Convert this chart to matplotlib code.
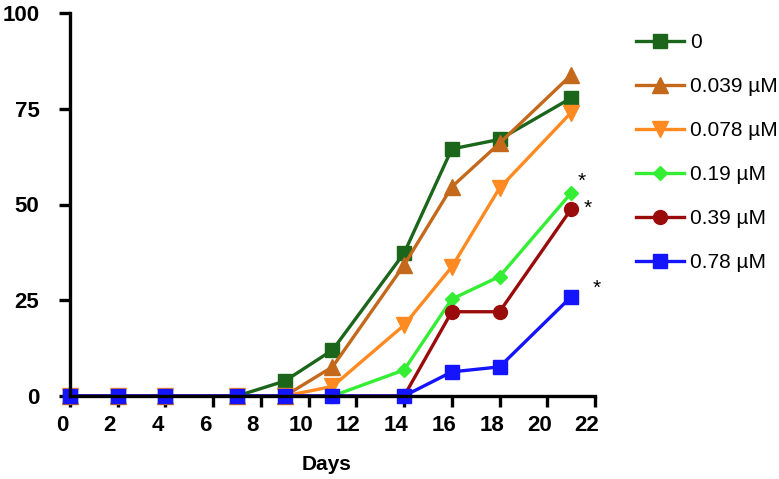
import matplotlib.pyplot as plt
from matplotlib.transforms import ScaledTranslation

plt.rcParams['font.family'] = ['Liberation Sans', 'DejaVu Sans']

days = [0, 2, 4, 7, 9, 11, 14, 16, 18, 21]

labels = ["0", "0.039 µM", "0.078 µM", "0.19 µM", "0.39 µM", "0.78 µM"]
conc_0 = [0, 0, 0, 0, 3.9, 12.0, 37.3, 64.5, 67.0, 77.8]
conc_039 = [0, 0, 0, 0, 0, 7.6, 34.2, 54.6, 66.0, 83.8]
conc_078 = [0, 0, 0, 0, 0, 2.5, 18.5, 33.7, 54.3, 74.0]
conc_19 = [0, 0, 0, 0, 0, 0, 6.8, 25.3, 31.2, 53.0]
conc_39 = [0, 0, 0, 0, 0, 0, 0, 22.0, 22.0, 48.8]
conc_78 = [0, 0, 0, 0, 0, 0, 0, 6.3, 7.6, 25.9]

star_x = [21.45, 21.68, 22.05]
star_y = [56.0, 49.0, 28.0]

xticks = list(range(0, 23, 2))
yticks = [0, 25, 50, 75, 100]

series = [conc_0, conc_039, conc_078, conc_19, conc_39, conc_78]
colors = ["#1b661b", "#c4691c", "#ff8a22", "#33ee33", "#9a0c0c", "#1414ff"]
markers = ["s", "^", "v", "D", "o", "s"]
msizes = [10, 11, 11, 7, 10, 10]

fig = plt.figure(figsize=(7.79, 4.79), dpi=100)
ax = fig.add_axes([70 / 779, 1 - 396 / 479, 525 / 779, 383 / 479])

for vals, lab, c, m, ms in zip(series, labels, colors, markers, msizes):
    ax.plot(days, vals, color=c, marker=m, markersize=ms, linewidth=2.4,
            label=lab, clip_on=False)

for sx, sy in zip(star_x, star_y):
    ax.text(sx, sy, "*", fontsize=15, ha="center", va="center")

ax.set_xlim(0, 22)
ax.set_ylim(0, 100)
ax.set_xticks(xticks)
ax.set_yticks(yticks)
for lbl in ax.get_xticklabels() + ax.get_yticklabels():
    lbl.set_fontweight("bold")
ax.tick_params(axis="both", direction="out", length=8, width=2.4, labelsize=16)
ax.tick_params(axis="y", pad=14)
ax.tick_params(axis="x", pad=6)
off = ScaledTranslation(-8 / 100, 0, fig.dpi_scale_trans)
for lbl in ax.get_xticklabels():
    lbl.set_transform(lbl.get_transform() + off)

for s in ["top", "right"]:
    ax.spines[s].set_visible(False)
for s in ["left", "bottom"]:
    ax.spines[s].set_linewidth(2.4)

ax.set_xlabel("Days", fontsize=15, fontweight="bold")
ax.xaxis.set_label_coords(0.488, -0.155)

fig.legend(loc="upper left", bbox_to_anchor=(628 / 779, 1 - 25 / 479),
           frameon=False, fontsize=15, handlelength=2.3, labelspacing=1.2,
           handletextpad=0.3, borderaxespad=0)

plt.savefig("out.png", dpi=100)
